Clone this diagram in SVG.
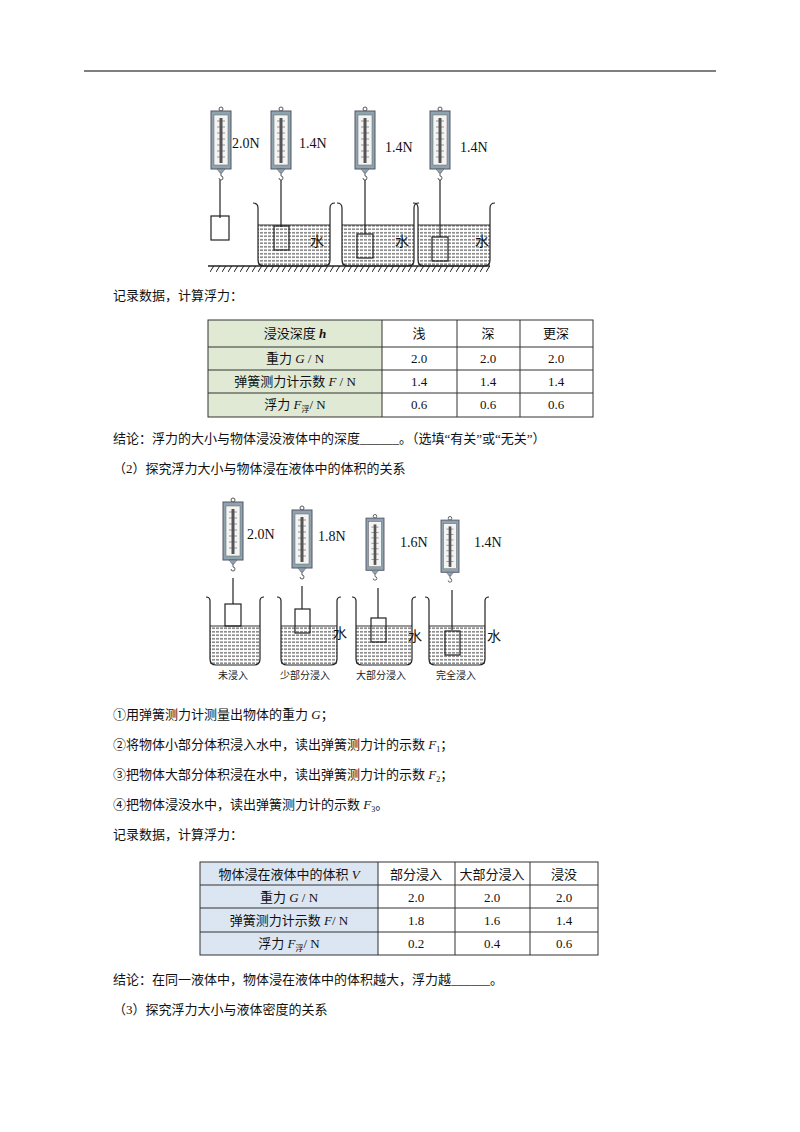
<svg xmlns="http://www.w3.org/2000/svg" width="800" height="1132" viewBox="0 0 800 1132">
<style>
.t{font-family:"Liberation Serif","Noto Sans CJK SC",serif;font-size:13px;fill:#111}
.c{text-anchor:middle}
.lb{font-family:"Liberation Serif","Noto Sans CJK SC",serif;font-size:14px;fill:#111}
.sm{font-family:"Liberation Serif","Noto Sans CJK SC",serif;font-size:10px;fill:#222;text-anchor:middle}
.ln{stroke:#222;stroke-width:1.2;fill:none}
.tb{stroke:#333;stroke-width:1;fill:none}
</style>
<defs>
<symbol id="scale" viewBox="0 0 20 70" overflow="visible">
<circle cx="10" cy="2" r="2" fill="none" stroke="#555"/>
<rect x="0" y="4" width="20" height="58" fill="#8ea3ad" stroke="#556"/>
<rect x="3" y="8" width="14" height="50" fill="#f4f4f4" stroke="#666" stroke-width="0.5"/>
<line x1="10" y1="11" x2="10" y2="56" stroke="#555" stroke-width="3"/>
<path d="M6 14h8M6 20h8M6 26h8M6 32h8M6 38h8M6 44h8M6 50h8" stroke="#555" stroke-width="0.6"/>
<path d="M6 62h8l-3 4h-2z" fill="#8ea3ad" stroke="#556" stroke-width="0.5"/>
<path d="M10 66v3a2 2 0 1 1 -2 2" fill="none" stroke="#333" stroke-width="0.8"/>
</symbol>
<pattern id="water" width="4" height="3.5" patternUnits="userSpaceOnUse">
<line x1="0" y1="1.75" x2="3" y2="1.75" stroke="#222" stroke-width="0.9"/>
</pattern>
<pattern id="hatch" width="6" height="8" patternUnits="userSpaceOnUse">
<line x1="5" y1="0" x2="0" y2="8" stroke="#222" stroke-width="1"/>
</pattern>
</defs>
<rect width="800" height="1132" fill="#fff"/>
<line x1="84" y1="71" x2="716" y2="71" stroke="#000" stroke-width="1.2"/>

<g id="figure1">
<use href="#scale" x="211" y="107" width="20" height="70"/>
<text x="232" y="148" class="lb">2.0N</text>
<line x1="220" y1="180" x2="220" y2="218" class="ln"/>
<rect x="211" y="216" width="18" height="24" fill="#fff" class="ln"/>
<use href="#scale" x="271" y="107" width="20" height="70"/>
<text x="299" y="148" class="lb">1.4N</text>
<use href="#scale" x="355" y="107" width="20" height="70"/>
<text x="385" y="152" class="lb">1.4N</text>
<use href="#scale" x="430" y="107" width="20" height="70"/>
<text x="460" y="152" class="lb">1.4N</text>
<g>
<rect x="258" y="225" width="72" height="40" fill="url(#water)"/>
<line x1="258" y1="225" x2="330" y2="225" stroke="#333"/>
<path d="M253 203q5 0 5 5v52q0 6 6 6h60q6 0 6-6v-52q0-5 5-5" class="ln"/>
<line x1="281" y1="180" x2="281" y2="227" class="ln"/>
<rect x="274" y="226" width="15" height="24" fill="#fff" class="ln"/>
<text x="310" y="246" class="lb">水</text>
<rect x="342" y="225" width="72" height="40" fill="url(#water)"/>
<line x1="342" y1="225" x2="414" y2="225" stroke="#333"/>
<path d="M337 203q5 0 5 5v52q0 6 6 6h60q6 0 6-6v-52q0-5 5-5" class="ln"/>
<line x1="365" y1="180" x2="365" y2="234" class="ln"/>
<rect x="357" y="234" width="16" height="24" fill="#fff" class="ln"/>
<text x="395" y="246" class="lb">水</text>
<rect x="418" y="225" width="72" height="40" fill="url(#water)"/>
<line x1="418" y1="225" x2="490" y2="225" stroke="#333"/>
<path d="M413 203q5 0 5 5v52q0 6 6 6h60q6 0 6-6v-52q0-5 5-5" class="ln"/>
<line x1="440" y1="180" x2="440" y2="237" class="ln"/>
<rect x="432" y="237" width="16" height="24" fill="#fff" class="ln"/>
<text x="475" y="246" class="lb">水</text>
</g>
<line x1="208" y1="266" x2="490" y2="266" stroke="#222" stroke-width="1.5"/>
<rect x="208" y="266" width="282" height="6" fill="url(#hatch)"/>
</g>

<text x="113" y="300" class="t">记录数据，计算浮力：</text>

<g id="table1">
<rect x="208" y="320" width="174" height="97" fill="#dfe9d3"/>
<rect x="208" y="320" width="385" height="97" class="tb"/>
<path d="M382 320v97M457 320v97M520 320v97M208 347h385M208 370h385M208 393h385" class="tb"/>
<text x="295" y="338" class="t c">浸没深度 <tspan font-style="italic" font-weight="bold">h</tspan></text>
<text x="295" y="363" class="t c">重力 <tspan font-style="italic">G</tspan> / N</text>
<text x="295" y="386" class="t c">弹簧测力计示数 <tspan font-style="italic">F</tspan> / N</text>
<text x="295" y="409" class="t c">浮力 <tspan font-style="italic">F</tspan><tspan font-size="8" dy="3">浮</tspan><tspan dy="-3">/ N</tspan></text>
<text x="419" y="338" class="t c">浅</text><text x="488" y="338" class="t c">深</text><text x="556" y="338" class="t c">更深</text>
<text x="419" y="363" class="t c">2.0</text><text x="488" y="363" class="t c">2.0</text><text x="556" y="363" class="t c">2.0</text>
<text x="419" y="386" class="t c">1.4</text><text x="488" y="386" class="t c">1.4</text><text x="556" y="386" class="t c">1.4</text>
<text x="419" y="409" class="t c">0.6</text><text x="488" y="409" class="t c">0.6</text><text x="556" y="409" class="t c">0.6</text>
</g>

<text x="113" y="443" class="t">结论：浮力的大小与物体浸没液体中的深度______。（选填“有关”或“无关”）</text>
<text x="113" y="473" class="t">（2）探究浮力大小与物体浸在液体中的体积的关系</text>

<g id="figure2">
<use href="#scale" x="223" y="498" width="20" height="70"/>
<text x="247" y="539" class="lb">2.0N</text>
<use href="#scale" x="292" y="506" width="20" height="70"/>
<text x="318" y="541" class="lb">1.8N</text>
<use href="#scale" x="366" y="513" width="18" height="66"/>
<text x="400" y="547" class="lb">1.6N</text>
<use href="#scale" x="441" y="515" width="18" height="66"/>
<text x="474" y="547" class="lb">1.4N</text>
<rect x="210" y="626" width="50" height="38" fill="url(#water)"/>
<line x1="210" y1="626" x2="260" y2="626" stroke="#333"/>
<path d="M206 597q4 0 4 4v58q0 6 6 6h38q6 0 6-6v-58q0-4 4-4" class="ln"/>
<line x1="233" y1="578" x2="233" y2="604" class="ln"/>
<rect x="225" y="604" width="16" height="22" fill="#fff" class="ln"/>
<rect x="281" y="626" width="56" height="38" fill="url(#water)"/>
<line x1="281" y1="626" x2="337" y2="626" stroke="#333"/>
<path d="M277 597q4 0 4 4v58q0 6 6 6h44q6 0 6-6v-58q0-4 4-4" class="ln"/>
<line x1="302" y1="586" x2="302" y2="609" class="ln"/>
<rect x="295" y="609" width="15" height="24" fill="#fff" class="ln"/>
<text x="333" y="638" class="lb">水</text>
<rect x="356" y="626" width="56" height="38" fill="url(#water)"/>
<line x1="356" y1="626" x2="412" y2="626" stroke="#333"/>
<path d="M352 597q4 0 4 4v58q0 6 6 6h44q6 0 6-6v-58q0-4 4-4" class="ln"/>
<line x1="378" y1="588" x2="378" y2="618" class="ln"/>
<rect x="371" y="618" width="15" height="24" fill="#fff" class="ln"/>
<text x="408" y="641" class="lb">水</text>
<rect x="429" y="626" width="56" height="38" fill="url(#water)"/>
<line x1="429" y1="626" x2="485" y2="626" stroke="#333"/>
<path d="M425 597q4 0 4 4v58q0 6 6 6h44q6 0 6-6v-58q0-4 4-4" class="ln"/>
<line x1="452" y1="590" x2="452" y2="630" class="ln"/>
<rect x="445" y="631" width="15" height="24" fill="#fff" class="ln"/>
<text x="487" y="641" class="lb">水</text>
<text x="233" y="679" class="sm">未浸入</text>
<text x="305" y="679" class="sm">少部分浸入</text>
<text x="381" y="679" class="sm">大部分浸入</text>
<text x="456" y="679" class="sm">完全浸入</text>
</g>

<text x="113" y="719" class="t">①用弹簧测力计测量出物体的重力 <tspan font-style="italic">G</tspan>；</text>
<text x="113" y="749" class="t">②将物体小部分体积浸入水中，读出弹簧测力计的示数 <tspan font-style="italic">F</tspan><tspan font-size="8" dy="3">1</tspan><tspan dy="-3">；</tspan></text>
<text x="113" y="779" class="t">③把物体大部分体积浸在水中，读出弹簧测力计的示数 <tspan font-style="italic">F</tspan><tspan font-size="8" dy="3">2</tspan><tspan dy="-3">；</tspan></text>
<text x="113" y="809" class="t">④把物体浸没水中，读出弹簧测力计的示数 <tspan font-style="italic">F</tspan><tspan font-size="8" dy="3">3</tspan><tspan dy="-3">。</tspan></text>
<text x="113" y="839" class="t">记录数据，计算浮力：</text>

<g id="table2">
<rect x="200" y="862" width="178" height="93" fill="#dce6f2"/>
<rect x="200" y="862" width="398" height="93" class="tb"/>
<path d="M378 862v93M455 862v93M530 862v93M200 885h398M200 908h398M200 932h398" class="tb"/>
<text x="289" y="879" class="t c">物体浸在液体中的体积 <tspan font-style="italic">V</tspan></text>
<text x="289" y="902" class="t c">重力 <tspan font-style="italic">G</tspan> / N</text>
<text x="289" y="925" class="t c">弹簧测力计示数 <tspan font-style="italic">F</tspan>/ N</text>
<text x="289" y="948" class="t c">浮力 <tspan font-style="italic">F</tspan><tspan font-size="8" dy="3">浮</tspan><tspan dy="-3">/ N</tspan></text>
<text x="416" y="879" class="t c">部分浸入</text><text x="492" y="879" class="t c">大部分浸入</text><text x="564" y="879" class="t c">浸没</text>
<text x="416" y="902" class="t c">2.0</text><text x="492" y="902" class="t c">2.0</text><text x="564" y="902" class="t c">2.0</text>
<text x="416" y="925" class="t c">1.8</text><text x="492" y="925" class="t c">1.6</text><text x="564" y="925" class="t c">1.4</text>
<text x="416" y="948" class="t c">0.2</text><text x="492" y="948" class="t c">0.4</text><text x="564" y="948" class="t c">0.6</text>
</g>

<text x="113" y="984" class="t">结论：在同一液体中，物体浸在液体中的体积越大，浮力越______。</text>
<text x="113" y="1014" class="t">（3）探究浮力大小与液体密度的关系</text>
</svg>
